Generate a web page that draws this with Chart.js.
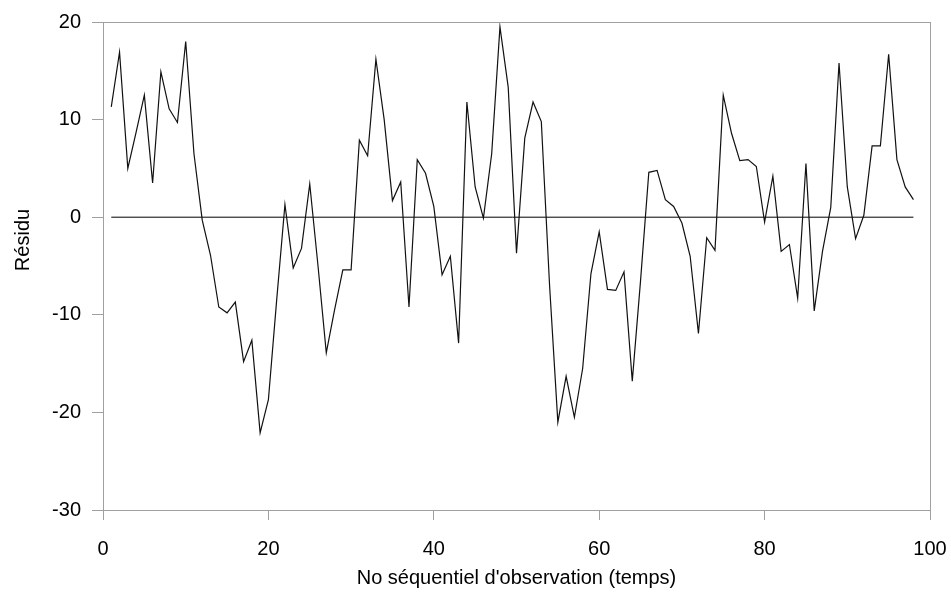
<!DOCTYPE html>
<html>
<head>
<meta charset="utf-8">
<script src="https://cdn.jsdelivr.net/npm/chart.js@4"></script>
<style>
  html, body { margin: 0; padding: 0; background: #fff; }
  #wrap { width: 951px; height: 598px; }
</style>
</head>
<body>
<div id="wrap"><canvas id="residus"></canvas></div>
<script>
// No d'observation (axe x)
const obsNo = [
    1, 2, 3, 4, 5, 6, 7, 8, 9, 10,
    11, 12, 13, 14, 15, 16, 17, 18, 19, 20,
    21, 22, 23, 24, 25, 26, 27, 28, 29, 30,
    31, 32, 33, 34, 35, 36, 37, 38, 39, 40,
    41, 42, 43, 44, 45, 46, 47, 48, 49, 50,
    51, 52, 53, 54, 55, 56, 57, 58, 59, 60,
    61, 62, 63, 64, 65, 66, 67, 68, 69, 70,
    71, 72, 73, 74, 75, 76, 77, 78, 79, 80,
    81, 82, 83, 84, 85, 86, 87, 88, 89, 90,
    91, 92, 93, 94, 95, 96, 97, 98
];

// Résidus
const residus = [
    11.3, 16.9, 5.0, 8.7, 12.5, 3.5, 14.9, 11.1, 9.7, 18.0,
    6.5, -0.3, -3.9, -9.2, -9.8, -8.7, -14.8, -12.6, -22.1, -18.7,
    -8.5, 1.3, -5.2, -3.2, 3.4, -5.0, -13.9, -9.5, -5.4, -5.4,
    7.9, 6.3, 16.2, 10.0, 1.7, 3.6, -9.2, 5.9, 4.5, 1.1,
    -5.9, -4.0, -12.9, 11.8, 3.1, -0.1, 6.5, 19.5, 13.3, -3.7,
    8.1, 11.8, 9.8, -7.0, -21.0, -16.3, -20.5, -15.5, -5.8, -1.5,
    -7.4, -7.5, -5.6, -16.8, -6.5, 4.6, 4.8, 1.8, 1.1, -0.6,
    -4.0, -11.9, -2.1, -3.4, 12.5, 8.6, 5.8, 5.9, 5.2, -0.5,
    4.2, -3.5, -2.8, -8.3, 5.5, -9.6, -3.5, 1.0, 15.8, 3.1,
    -2.2, 0.2, 7.3, 7.3, 16.7, 5.9, 3.1, 1.8
];

// Ligne de référence à zéro
const refX = [1, 98];
const refY = [0, 0];

const xTicks = [0, 20, 40, 60, 80, 100];
const yTicks = [-30, -20, -10, 0, 10, 20];

const titreY = 'Résidu';

// Cadre gris autour de la zone de tracé + titre de l'axe Y
const plotFrame = {
    id: 'plotFrame',
    afterDraw: function(chart) {
        const a = chart.chartArea;
        const c = chart.ctx;
        c.save();
        c.strokeStyle = '#a0a0a0';
        c.lineWidth = 1;
        c.strokeRect(Math.round(a.left) + 0.5, Math.round(a.top) + 0.5,
            Math.round(a.right - a.left), Math.round(a.bottom - a.top));

        // titre Y un peu au-dessus du centre, comme dans Excel
        c.translate(23, 240);
        c.rotate(-Math.PI / 2);
        c.fillStyle = '#000';
        c.font = '20px "Liberation Sans", Arial';
        c.textAlign = 'center';
        c.textBaseline = 'middle';
        c.fillText(titreY, 0, 0);
        c.restore();
    }
};

const ctx = document.getElementById('residus');
new Chart(ctx, {
    type: 'line',
    data: {
        datasets: [
            {
                label: 'Résidu',
                data: obsNo.map(function(x, i) { return { x: x, y: residus[i] }; }),
                borderColor: '#111',
                borderWidth: 1.2,
                pointRadius: 0,
                tension: 0,
                fill: false
            },
            {
                label: 'zéro',
                data: refX.map(function(x, i) { return { x: x, y: refY[i] }; }),
                borderColor: '#000',
                borderWidth: 1,
                pointRadius: 0,
                tension: 0,
                fill: false
            }
        ]
    },
    options: {
        responsive: true,
        maintainAspectRatio: false,
        animation: false,
        layout: { padding: { top: 22, right: 21, left: 0, bottom: 0 } },
        plugins: {
            legend: { display: false },
            tooltip: { enabled: false }
        },
        scales: {
            x: {
                type: 'linear',
                min: 0,
                max: 100,
                afterBuildTicks: function(s) { s.ticks = xTicks.map(function(v) { return { value: v }; }); },
                afterFit: function(s) { s.height = 88; s.paddingLeft = 0; s.paddingRight = 0; },
                border: { display: true, color: '#a0a0a0' },
                grid: { drawOnChartArea: false, drawTicks: true, tickLength: 10, color: '#a0a0a0' },
                ticks: {
                    color: '#000',
                    padding: 17,
                    maxRotation: 0,
                    font: { family: 'Liberation Sans, Arial', size: 20 }
                },
                title: {
                    display: true,
                    text: "No séquentiel d'observation (temps)",
                    color: '#000',
                    padding: { top: 0, bottom: 8 },
                    font: { family: 'Liberation Sans, Arial', size: 20 }
                }
            },
            y: {
                min: -30,
                max: 20,
                afterBuildTicks: function(s) { s.ticks = yTicks.map(function(v) { return { value: v }; }); },
                afterFit: function(s) { s.width = 103; s.paddingTop = 0; s.paddingBottom = 0; },
                border: { display: true, color: '#a0a0a0' },
                grid: { drawOnChartArea: false, drawTicks: true, tickLength: 11, color: '#a0a0a0' },
                ticks: {
                    color: '#000',
                    padding: 11,
                    font: { family: 'Liberation Sans, Arial', size: 20 }
                },
                title: { display: false }
            }
        }
    },
    plugins: [plotFrame]
});
</script>
</body>
</html>
